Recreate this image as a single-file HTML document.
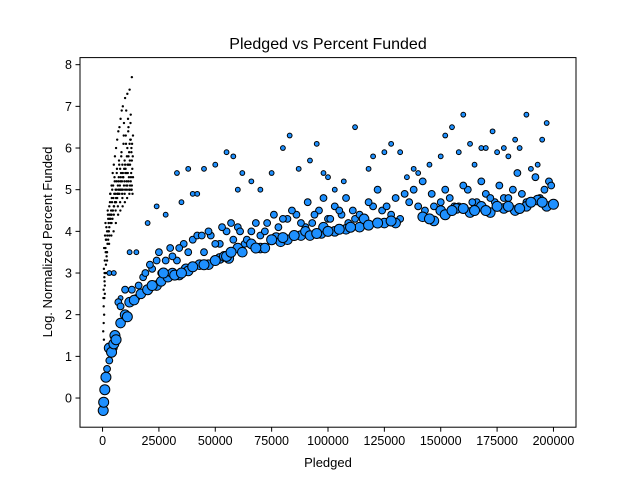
<!DOCTYPE html>
<html><head><meta charset="utf-8"><style>
body{margin:0;background:#fff}
svg{display:block;font-family:"Liberation Sans","DejaVu Sans",sans-serif}
</style></head><body>
<svg id="chart" width="640" height="480" viewBox="0 0 640 480">
<rect width="640" height="480" fill="#fff"/>
<text x="328" y="49" text-anchor="middle" font-size="16">Pledged vs Percent Funded</text>
<text x="328" y="467" text-anchor="middle" font-size="13">Pledged</text>
<text transform="translate(52,242) rotate(-90)" text-anchor="middle" font-size="13">Log. Normalized Percent Funded</text>
<g id="marks"></g>
<g id="axes"></g>
</svg>
<script>
const xTicks=[0,25000,50000,75000,100000,125000,150000,175000,200000];
const yTicks=[0,1,2,3,4,5,6,7,8];
// x in thousands
const tinyX=[0.3,0.5,0.5,0.7,0.8,1,1,1.2,1.3,1.5,1.5,1.8,2,2,2.2,2.5,2.5,2.8,3,3,3.2,3.5,3.5,3.8,4,4,4.2,4.5,4.5,4.8,5,5,5.2,5.5,5.5,5.8,6,6,6.2,6.5,6.5,6.8,7,7,7.2,7.5,7.5,7.8,8,8,8.2,8.5,8.5,8.8,9,9,9.2,9.5,9.5,9.8,10,10,10.2,10.5,10.5,10.8,11,11,11.2,11.5,11.5,11.8,12,12,12.2,12.5,12.5,12.8,13,13,13.2,13.5,13.5,13,12.8,12.5,12,11.5,11,10,9,8,7,6,5,4,3,2,1.5,1,0.8,0.6];
const tinyY=[1.6,2.2,2.6,2.0,2.9,2.5,3.3,3.0,3.6,3.2,3.8,3.4,3.5,4.0,3.7,3.8,4.3,4.0,4.1,4.6,4.3,4.3,4.9,4.5,4.4,5.1,4.7,4.5,5.4,4.8,4.6,5.6,4.9,4.7,5.8,5.0,4.8,6.0,5.2,4.8,6.2,5.1,4.9,6.4,5.3,4.9,6.5,5.5,5.0,6.7,5.4,5.0,6.9,5.6,5.0,7.0,5.3,5.1,6.6,5.7,5.0,7.2,5.5,5.1,6.9,5.8,5.1,7.3,5.4,5.2,6.5,5.9,5.0,7.4,5.6,5.2,6.8,6.0,5.1,7.7,5.5,5.3,6.3,5.7,5.9,6.2,6.1,5.8,6.0,5.6,5.4,5.2,5.0,4.7,4.4,4.2,3.9,3.3,3.0,2.7,2.4,1.4];
const tinyX2=[0.4,0.6,0.9,1.1,1.4,1.7,2.1,2.4,2.7,3.1,3.4,3.7,4.1,4.4,4.7,5.1,5.4,5.7,6.1,6.4,6.7,7.1,7.4,7.7,8.1,8.4,8.7,9.1,9.4,9.7,10.1,10.4,10.7,11.1,11.4,11.7,12.1,12.4,12.7,13.1,13.4,12.9,12.6,12.3,11.9,11.6,11.3,10.9,10.6,10.3,9.9,9.6,9.3,8.9,8.6,8.3,7.9,7.6,7.3,6.9,6.6,6.3,5.9,5.6,5.3,4.9,4.6,4.3,3.9,3.6,3.3,2.9,2.6,2.3,1.9,1.6,1.3,0.9,0.7,0.5,12.2,12.8,13.3,11.8,10.8,9.8,8.8,7.8,6.8,5.8];
const tinyY2=[2.4,3.1,2.8,3.9,3.5,4.1,3.9,4.4,4.2,4.4,4.9,4.4,4.8,4.3,5.1,4.6,5.2,4.9,5.0,5.5,4.9,5.2,5.6,5.1,5.3,5.9,4.9,5.3,6.3,5.2,5.4,6.1,5.2,5.6,6.4,5.3,5.7,6.6,5.4,6.1,5.8,5.0,5.3,6.2,4.9,5.6,6.7,4.8,5.4,6.3,4.7,5.5,6.1,4.6,5.2,5.8,4.5,5.0,5.7,4.4,4.9,5.4,4.2,4.7,5.3,4.0,4.5,5.0,3.9,4.2,4.7,3.7,4.0,4.5,3.5,3.8,4.2,3.0,3.6,1.8,5.1,5.0,4.9,5.0,5.0,4.9,4.8,4.7,4.6,4.5];
const smallX=[3,5,8,12,15,20,24,28,33,35,38,40,42,45,50,55,58,60,62,66,70,75,80,83,87,92,95,98,100,103,107,112,118,120,125,128,132,135,138,140,145,150,152,155,158,160,163,165,168,170,173,175,178,180,183,185,188,190,193,195,197];
const smallY=[3.0,3.0,2.4,3.5,3.5,4.2,4.6,4.4,5.4,4.7,5.5,4.9,4.9,5.5,5.6,5.9,5.8,5.0,5.4,5.2,5.0,5.4,6.0,6.3,5.5,5.7,6.1,5.4,5.3,5.0,5.2,6.5,5.5,5.8,5.9,6.1,5.9,5.3,5.5,5.4,5.6,5.8,6.3,6.5,5.9,6.8,6.1,5.6,6.0,6.0,6.4,5.9,6.0,5.8,6.2,6.0,6.8,5.5,5.6,6.2,6.6];
const medX=[2,3,5,7,8,13,15,18,22,25,28,30,33,36,40,42,45,48,52,55,58,60,63,66,70,73,78,82,86,90,93,96,100,103,106,109,112,116,120,124,128,132,136,140,143,146,150,154,158,162,166,170,174,178,182,186,190,194,198,199];
const medY=[0.7,0.9,1.2,2.3,2.2,2.6,2.4,2.9,3.1,3.5,3.3,3.6,3.3,3.7,3.8,3.9,3.5,3.9,3.7,4.0,3.8,4.1,3.7,4.0,3.9,4.2,4.1,4.3,4.4,4.1,4.2,4.5,4.3,4.6,4.4,4.2,4.3,4.2,4.6,4.5,4.4,4.3,4.7,4.6,4.5,4.9,4.7,4.8,4.6,5.0,4.7,4.9,4.7,4.8,5.0,4.9,4.7,4.8,5.2,5.1];
const medX2=[10,16,19,21,24,26,31,34,38,44,47,50,53,57,61,64,68,72,76,80,84,88,91,94,98,101,105,108,111,114,118,122,126,130,134,138,142,147,152,156,160,164,168,172,176,180,184,188,192,196];
const medY2=[2.6,2.7,3.0,3.2,3.3,3.0,3.4,3.6,3.5,3.9,4.0,3.7,4.1,4.2,4.0,3.8,4.2,4.0,4.4,4.3,4.5,4.2,4.7,4.4,4.8,4.3,4.5,4.8,4.5,4.4,4.7,5.0,4.6,4.8,4.9,5.0,5.2,4.6,5.0,4.6,5.1,4.7,5.2,4.8,5.1,4.8,5.4,4.7,5.3,5.0];
const largeX=[0.3,0.5,1,1.5,3,4,5,5.5,6,11,20,22,27,32,35,40,45,50,55,57,68,75,80,85,95,100,105,110,118,122,128,145,152,155,160,165,170,175,180,185,190,195,200];
const largeY=[-0.3,-0.1,0.2,0.5,1.2,1.1,1.3,1.5,1.4,1.95,2.6,2.7,3.0,2.95,3.0,3.15,3.2,3.3,3.4,3.5,3.6,3.8,3.85,3.9,3.95,4.0,4.05,4.1,4.15,4.2,4.25,4.3,4.4,4.5,4.55,4.5,4.5,4.6,4.6,4.55,4.7,4.7,4.65];
const largeX2=[8,10,12,14,17,24,26,29,31,34,37,38,43,47,52,54,56,60,62,66,70,72,77,79,82,88,90,92,97,98,103,108,114,116,125,130,142,147,150,157,163,168,172,178,183,188,193,197];
const largeY2=[1.8,2.0,2.3,2.35,2.5,2.7,2.8,2.9,3.0,2.95,3.1,3.05,3.2,3.2,3.35,3.4,3.35,3.6,3.5,3.7,3.6,3.6,3.85,3.75,3.8,3.9,4.0,3.9,3.95,4.1,4.0,4.05,4.1,4.3,4.2,4.2,4.35,4.25,4.5,4.55,4.45,4.6,4.45,4.55,4.5,4.6,4.75,4.6];

const L=80,R=576,T=57.6,B=427.2;
const xMin=-10000,xMax=210000,yMin=-0.7,yMax=8.17;
const sx=v=>L+(v-xMin)/(xMax-xMin)*(R-L);
const sy=v=>B-(v-yMin)/(yMax-yMin)*(B-T);
const NS='http://www.w3.org/2000/svg';
const marks=document.getElementById('marks');
const axes=document.getElementById('axes');
function series(xs,ys,r,fill,stroke,sw,name){
  const n=Math.min(xs.length,ys.length);
  for(let i=0;i<n;i++){
    const c=document.createElementNS(NS,'circle');
    c.setAttribute('cx',sx(xs[i]*1000));
    c.setAttribute('cy',sy(ys[i]));
    c.setAttribute('r',r);
    c.setAttribute('fill',fill);
    c.setAttribute('stroke',stroke);
    c.setAttribute('stroke-width',sw);
    
    
    marks.appendChild(c);
  }
}
series(tinyX,tinyY,1.2,'#000','none',0,'tiny-point');
series(tinyX2,tinyY2,1.2,'#000','none',0,'tiny-point');
series(smallX,smallY,2.4,'#1e90ff','#000',1,'small-point');
series(medX,medY,3.4,'#1e90ff','#000',1,'medium-point');
series(medX2,medY2,3.4,'#1e90ff','#000',1,'medium-point');
series(largeX2,largeY2,4.8,'#1e90ff','#000',1,'large-point');
series(largeX,largeY,5,'#1e90ff','#000',1,'large-point');

const frame=document.createElementNS(NS,'rect');
frame.setAttribute('x',L);frame.setAttribute('y',T);
frame.setAttribute('width',R-L);frame.setAttribute('height',B-T);
frame.setAttribute('fill','none');frame.setAttribute('stroke','#000');frame.setAttribute('stroke-width','1');


axes.appendChild(frame);
xTicks.forEach(v=>{
  const x=sx(v);
  const l=document.createElementNS(NS,'line');
  l.setAttribute('x1',x);l.setAttribute('x2',x);l.setAttribute('y1',B);l.setAttribute('y2',B+4.5);l.setAttribute('stroke','#000');
  
  
  axes.appendChild(l);
  const t=document.createElementNS(NS,'text');
  t.setAttribute('x',x);t.setAttribute('y',B+18);t.setAttribute('text-anchor','middle');t.setAttribute('font-size','12.5');
  t.textContent=String(v);
  
  
  axes.appendChild(t);
});
yTicks.forEach(v=>{
  const y=sy(v);
  const l=document.createElementNS(NS,'line');
  l.setAttribute('x1',L-4.5);l.setAttribute('x2',L);l.setAttribute('y1',y);l.setAttribute('y2',y);l.setAttribute('stroke','#000');
  
  
  axes.appendChild(l);
  const t=document.createElementNS(NS,'text');
  t.setAttribute('x',L-8);t.setAttribute('y',y+4.5);t.setAttribute('text-anchor','end');t.setAttribute('font-size','12.5');
  t.textContent=String(v);
  
  
  axes.appendChild(t);
});
</script>
</body></html>
